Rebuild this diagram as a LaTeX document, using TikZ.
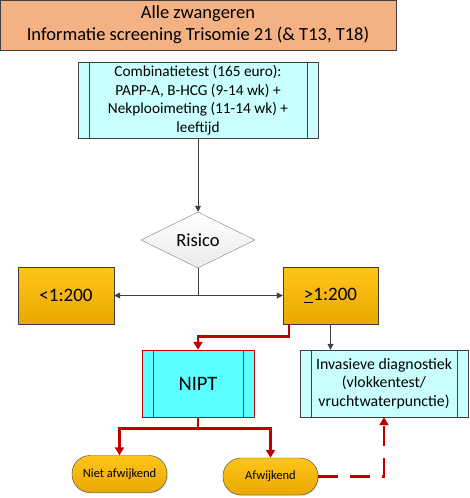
\documentclass[tikz,border=0pt]{standalone}
\usepackage{fontspec}
\setmainfont{Carlito}
\usetikzlibrary{positioning,shapes.geometric,shadows,arrows.meta}
\definecolor{titleorange}{HTML}{F4B183}
\definecolor{goldtop}{HTML}{FFC51A}
\definecolor{goldbottom}{HTML}{E9A800}
\definecolor{lightcyan}{HTML}{C9FFFF}
\definecolor{niptcyan}{HTML}{5CFFFF}
\definecolor{darkred}{HTML}{C00000}
\definecolor{edgegray}{HTML}{404040}
\tikzset{TitleBox/.style={%
    shape=rectangle,%
    draw=edgegray,%
    fill=titleorange,%
    align=center,%
    font=\fontsize{18.5}{22}\selectfont,%
    drop shadow={shadow xshift=1pt,shadow yshift=-1pt,opacity=.25},%
}}
\tikzset{ProcessBox/.style={%
    shape=rectangle,%
    draw=edgegray,%
    fill=lightcyan,%
    align=center,%
    drop shadow={shadow xshift=1pt,shadow yshift=-1pt,opacity=.25},%
    path picture={%
        \draw[edgegray] ([xshift=11pt]path picture bounding box.north west)
            -- ([xshift=11pt]path picture bounding box.south west);
        \draw[edgegray] ([xshift=-11pt]path picture bounding box.north east)
            -- ([xshift=-11pt]path picture bounding box.south east);
    },%
}}
\tikzset{RiskBox/.style={%
    shape=rectangle,%
    draw=edgegray,%
    top color=goldtop,%
    bottom color=goldbottom,%
    font=\fontsize{19}{22}\selectfont,%
    minimum width=96pt,%
    minimum height=57pt,%
    drop shadow={shadow xshift=1pt,shadow yshift=-1pt,opacity=.25},%
}}
\tikzset{ResultBox/.style={%
    shape=rectangle,%
    rounded corners=18pt,%
    draw=edgegray,%
    top color=goldtop,%
    bottom color=goldbottom,%
    font=\fontsize{12.5}{14}\selectfont,%
    minimum width=95pt,%
    minimum height=37pt,%
    drop shadow={shadow xshift=1pt,shadow yshift=-1pt,opacity=.25},%
}}
\tikzset{GrayArrow/.style={%
    -{Triangle[length=6pt,width=6pt]},%
    draw=edgegray,%
    line width=0.8pt,%
}}
\tikzset{RedArrow/.style={%
    -{Triangle[length=8pt,width=9pt]},%
    draw=darkred,%
    line width=2.7pt,%
}}
\tikzset{RedDash/.style={%
    -{Triangle[length=8pt,width=9pt]},%
    draw=darkred,%
    line width=2.7pt,%
    dash pattern=on 20pt off 12pt,%
}}

\begin{document}
\begin{tikzpicture}[x=1pt,y=1pt]
    \useasboundingbox (0,0) rectangle (470,-498);
    \node[TitleBox, minimum width=396pt, minimum height=50pt] (title) at (198,-25)
        {Alle zwangeren\\Informatie screening Trisomie 21 (\& T13, T18)};
    \node[ProcessBox, minimum width=240pt, minimum height=76pt,
        font=\fontsize{15.3}{18.5}\selectfont] (combi) at (198,-100)
        {Combinatietest (165 euro):\\PAPP-A, B-HCG (9-14 wk) +\\Nekplooimeting (11-14 wk) +\\leeftijd};
    \node[shape=diamond, draw=gray, top color=white, bottom color=black!8,
        minimum width=114pt, minimum height=55pt, inner sep=0pt,
        font=\fontsize{18.5}{21}\selectfont] (risico) at (198,-240) {Risico};
    \node[RiskBox] (low) at (66,-295.5) {<1:200};
    \node[RiskBox, minimum width=95pt] (high) at (330.5,-295.5) {\underline{>}1:200};
    \node[ProcessBox, draw=darkred, fill=niptcyan, minimum width=112pt, minimum height=67pt,
        font=\fontsize{20.5}{24}\selectfont] (nipt) at (198,-383.5) {NIPT};
    \node[ProcessBox, minimum width=168pt, minimum height=67pt,
        font=\fontsize{15.8}{18.5}\selectfont] (invasief) at (384,-383.5)
        {Invasieve diagnostiek\\(vlokkentest/\\vruchtwaterpunctie)};
    \node[ResultBox] (niet) at (119.5,-474) {Niet afwijkend};
    \node[ResultBox] (afw) at (270.5,-476.5) {Afwijkend};

    \draw[GrayArrow] (combi) -- (risico);
    \draw[GrayArrow] (risico.south) -- (risico.south |- low.east) -- (low.east);
    \draw[GrayArrow] (risico.south |- high.west) -- (high.west);
    \draw[GrayArrow] (high.south) -- (high.south |- invasief.north);
    \draw[RedArrow] ([xshift=-41.5pt]high.south) -- ++(0,-12) -| (nipt.north);
    \draw[RedArrow] (nipt.south) -- ++(0,-11) -| (niet.north);
    \draw[RedArrow] (nipt.south) -- ++(0,-11) -| (afw.north);
    \draw[RedDash] (afw.east) -| (invasief.south);
\end{tikzpicture}
\end{document}
